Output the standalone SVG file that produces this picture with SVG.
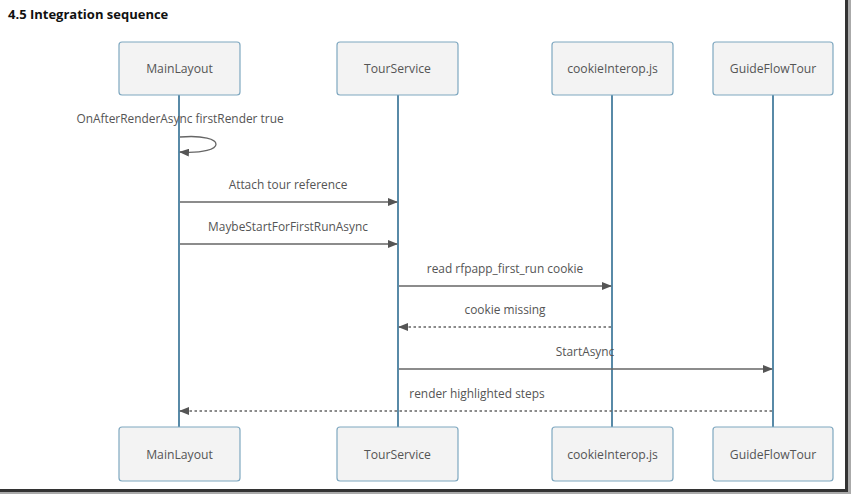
<svg xmlns="http://www.w3.org/2000/svg" width="851" height="494" viewBox="0 0 851 494">
<style>
.box{fill:#f3f3f3;stroke:#7fa8c0;stroke-width:1.2}
.nt{font-family:"Open Sans","Noto Sans",sans-serif;font-size:12.2px;fill:#555;text-anchor:middle}
.life{stroke:#2f6d92;stroke-width:1.6;fill:none}
.msg{stroke:#666;stroke-width:1.3;fill:none}
.dash{stroke-dasharray:2.5,2.5}
.ml{font-family:"Open Sans","Noto Sans",sans-serif;font-size:11.9px;fill:#555;text-anchor:middle}
</style>
<defs>
<marker id="ah" markerWidth="10" markerHeight="8" refX="9" refY="4" orient="auto" markerUnits="userSpaceOnUse">
<path d="M0,0 L10,4 L0,8 Z" fill="#555"/>
</marker>
</defs>
<rect width="851" height="494" fill="#fff"/>
<rect x="845" y="0" width="3" height="492" fill="#333"/>
<rect x="848" y="0" width="3" height="494" fill="#aaa"/>
<rect x="0" y="489" width="848" height="3" fill="#333"/>
<rect x="0" y="492" width="851" height="2" fill="#aaa"/>
<text x="8" y="19" font-family="'Open Sans','Noto Sans',sans-serif" font-size="13" font-weight="bold" fill="#111">4.5 Integration sequence</text>
<g id="lifelines">
<line class="life" x1="179" y1="95" x2="179" y2="427"/>
<line class="life" x1="398" y1="95" x2="398" y2="427"/>
<line class="life" x1="612" y1="95" x2="612" y2="427"/>
<line class="life" x1="773" y1="95" x2="773" y2="427"/>
</g>
<g id="MainLayout"><rect class="box" x="119" y="42" width="121" height="53" rx="3"/><text class="nt" x="179.5" y="73">MainLayout</text></g>
<g id="TourService"><rect class="box" x="337" y="42" width="121" height="53" rx="3"/><text class="nt" x="397.5" y="73">TourService</text></g>
<g id="cookieInterop"><rect class="box" x="552" y="42" width="121" height="53" rx="3"/><text class="nt" x="612.5" y="73">cookieInterop.js</text></g>
<g id="GuideFlowTour"><rect class="box" x="713" y="42" width="120" height="53" rx="3"/><text class="nt" x="773" y="73">GuideFlowTour</text></g>
<g id="MainLayout_bottom"><rect class="box" x="119" y="427" width="121" height="54" rx="3"/><text class="nt" x="179.5" y="459">MainLayout</text></g>
<g id="TourService_bottom"><rect class="box" x="337" y="427" width="121" height="54" rx="3"/><text class="nt" x="397.5" y="459">TourService</text></g>
<g id="cookieInterop_bottom"><rect class="box" x="552" y="427" width="121" height="54" rx="3"/><text class="nt" x="612.5" y="459">cookieInterop.js</text></g>
<g id="GuideFlowTour_bottom"><rect class="box" x="713" y="427" width="120" height="54" rx="3"/><text class="nt" x="773" y="459">GuideFlowTour</text></g>
<g id="connectors">
<path class="msg" d="M180,137 C228,133 228,155 180,152" marker-end="url(#ah)"/>
<line class="msg" x1="180" y1="202" x2="397" y2="202" marker-end="url(#ah)"/>
<line class="msg" x1="180" y1="244" x2="397" y2="244" marker-end="url(#ah)"/>
<line class="msg" x1="399" y1="286" x2="611" y2="286" marker-end="url(#ah)"/>
<line class="msg dash" x1="611" y1="327" x2="399" y2="327" marker-end="url(#ah)"/>
<line class="msg" x1="399" y1="369" x2="772" y2="369" marker-end="url(#ah)"/>
<line class="msg dash" x1="772" y1="411" x2="180" y2="411" marker-end="url(#ah)"/>
</g>
<g id="labels">
<text class="ml" x="180" y="123">OnAfterRenderAsync firstRender true</text>
<text class="ml" x="288" y="189">Attach tour reference</text>
<text class="ml" x="288" y="231">MaybeStartForFirstRunAsync</text>
<text class="ml" x="505" y="273">read rfpapp_first_run cookie</text>
<text class="ml" x="505" y="314">cookie missing</text>
<text class="ml" x="585" y="356">StartAsync</text>
<text class="ml" x="477" y="398">render highlighted steps</text>
</g>
</svg>
